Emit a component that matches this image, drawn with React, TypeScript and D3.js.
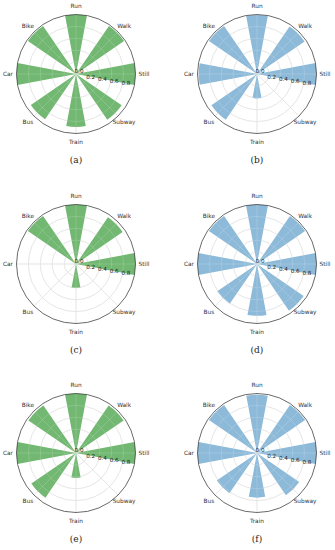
import React from "react";
import * as d3 from "d3";

const categories = ["Still", "Walk", "Run", "Bike", "Car", "Bus", "Train", "Subway"];
const radialTicks = [0.0, 0.2, 0.4, 0.6, 0.8];

// values per panel, in the order of categories
const valuesA = [1.0, 0.98, 1.0, 0.98, 1.0, 0.92, 0.89, 0.93];
const valuesB = [1.0, 0.97, 0.99, 0.98, 0.98, 0.93, 0.41, 0.0];
const valuesC = [1.0, 0.95, 1.0, 0.98, 0.03, 0.0, 0.4, 0.0];
const valuesD = [1.0, 0.98, 1.0, 0.98, 1.0, 0.81, 0.87, 0.95];
const valuesE = [1.0, 0.97, 1.0, 0.97, 1.0, 0.91, 0.42, 0.02];
const valuesF = [1.0, 0.98, 0.98, 0.98, 1.0, 0.82, 0.75, 0.86];

const GREEN = "#72b872";
const BLUE = "#8ebad9";

const panels = [
  { label: "(a)", values: valuesA, color: GREEN, cx: 76, cy: 74 },
  { label: "(b)", values: valuesB, color: BLUE, cx: 257, cy: 74 },
  { label: "(c)", values: valuesC, color: GREEN, cx: 76, cy: 264 },
  { label: "(d)", values: valuesD, color: BLUE, cx: 257, cy: 264 },
  { label: "(e)", values: valuesE, color: GREEN, cx: 76, cy: 453 },
  { label: "(f)", values: valuesF, color: BLUE, cx: 257, cy: 453 }
];

const R = 59.5;
const BAR_WIDTH = 0.37; // radians
const LABEL_R = 68;
const TICK_ANGLE = (-10 * Math.PI) / 180;

function Grid({ r, theta, stroke, opacity }) {
  return (
    <g stroke={stroke} strokeOpacity={opacity} strokeWidth={0.7} fill="none">
      {radialTicks.slice(1).map((t) => (
        <circle key={t} r={r(t)} />
      ))}
      {categories.map((c) => {
        const t = theta(c);
        return <line key={c} x1={0} y1={0} x2={R * Math.cos(t)} y2={-R * Math.sin(t)} />;
      })}
    </g>
  );
}

function PolarBars({ values, color, cx, cy, label }) {
  const r = d3.scaleLinear().domain([0, 1]).range([0, R]);
  const theta = d3
    .scalePoint()
    .domain(categories)
    .range([0, (2 * Math.PI * (categories.length - 1)) / categories.length]);
  const arc = d3.arc().innerRadius(0);
  const font = "'DejaVu Sans', sans-serif";

  return (
    <g>
      <g transform={`translate(${cx},${cy})`}>
        <Grid r={r} theta={theta} stroke="#d6d6d6" opacity={1} />
        {categories.map((c, i) => {
          const t = theta(c);
          const v = values[i];
          if (!v) return null;
          // matplotlib: CCW from east -> d3: CW from north
          const mid = Math.PI / 2 - t;
          return (
            <path
              key={c}
              d={arc({ outerRadius: r(v), startAngle: mid - BAR_WIDTH / 2, endAngle: mid + BAR_WIDTH / 2 })}
              fill={color}
            />
          );
        })}
        <Grid r={r} theta={theta} stroke="#ffffff" opacity={0.22} />
        <circle r={R} fill="none" stroke="#444" strokeWidth={0.8} />
        {radialTicks.map((t) => {
          const rr = r(t);
          return (
            <text
              key={t}
              x={rr * Math.cos(TICK_ANGLE) + 3}
              y={-rr * Math.sin(TICK_ANGLE) + (t === 0 ? -3 : 1)}
              fontSize={5.6}
              fontFamily={font}
              fill="#222"
              textAnchor="middle"
              dominantBaseline="middle"
            >
              {t.toFixed(1)}
            </text>
          );
        })}
        {categories.map((c) => {
          const t = theta(c);
          return (
            <text
              key={c}
              x={LABEL_R * Math.cos(t)}
              y={-LABEL_R * Math.sin(t)}
              fontSize={5.8}
              fontFamily={font}
              fill="#333"
              textAnchor="middle"
              dominantBaseline="middle"
            >
              {c}
            </text>
          );
        })}
      </g>
      <text
        x={cx}
        y={cy + 86}
        fontSize={9}
        fontFamily="'DejaVu Serif', 'Liberation Serif', serif"
        fill="#222"
        textAnchor="middle"
        dominantBaseline="middle"
      >
        {label}
      </text>
    </g>
  );
}

export default function App() {
  return (
    <svg
      width={335}
      height={550}
      viewBox="0 0 335 550"
      style={{ position: "absolute", left: 0, top: 0, background: "#fff" }}
    >
      {panels.map((p) => (
        <PolarBars key={p.label} {...p} />
      ))}
    </svg>
  );
}
